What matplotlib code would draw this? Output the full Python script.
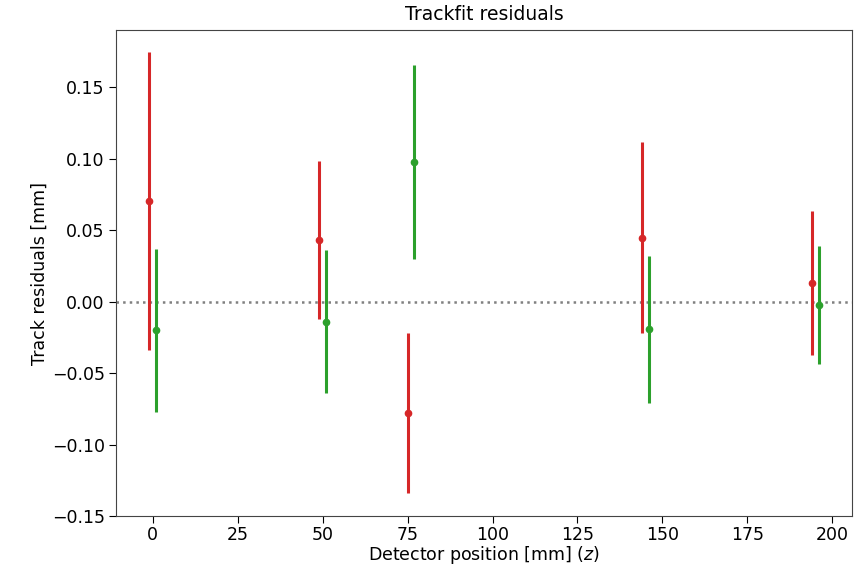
import matplotlib
matplotlib.use("Agg")
import matplotlib.pyplot as plt

# Data
red_z = [-1, 49, 75, 144, 194]
red_res = [0.0702, 0.0430, -0.0777, 0.0445, 0.0129]
red_err = [0.1043, 0.0550, 0.0560, 0.0668, 0.0504]

green_z = [1, 51, 77, 146, 196]
green_res = [-0.0200, -0.0140, 0.0978, -0.0195, -0.0023]
green_err = [0.0570, 0.0500, 0.0679, 0.0516, 0.0415]

fig = plt.figure(figsize=(8.59, 5.65), dpi=100)
ax = fig.add_axes([0.135, 0.0867, 0.857, 0.860])

ax.errorbar(red_z, red_res, yerr=red_err, fmt='o', color='tab:red',
            markersize=4.5, elinewidth=2.2, capsize=0)
ax.errorbar(green_z, green_res, yerr=green_err, fmt='o', color='tab:green',
            markersize=4.5, elinewidth=2.2, capsize=0)
ax.axhline(0, color='gray', linestyle=':', linewidth=1.8, zorder=0)

ax.set_yticks([-0.15, -0.10, -0.05, 0.00, 0.05, 0.10, 0.15])
ax.set_xticks([0, 25, 50, 75, 100, 125, 150, 175, 200])
ax.tick_params(labelsize=12.5, length=5)
ax.tick_params(axis='x', pad=2)
ax.tick_params(axis='y', pad=3)
ax.set_title("Trackfit residuals", fontsize=13.5, pad=7)
ax.set_xlabel("Detector position [mm] ($z$)", fontsize=12.5, labelpad=0.5)
ax.set_ylabel("Track residuals [mm]", fontsize=12.5, labelpad=2)
for s in ax.spines.values():
    s.set_color('#444444')

fig.savefig("out.png", dpi=100)
